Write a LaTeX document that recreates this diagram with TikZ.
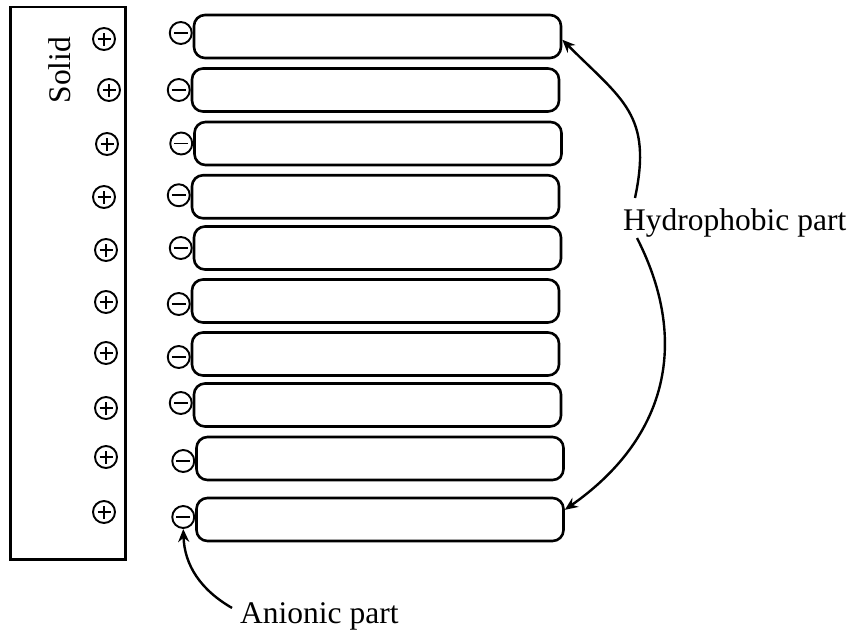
\documentclass[tikz,border=0pt]{standalone}
\usepackage{fontspec}
\setmainfont{Liberation Serif}
\usetikzlibrary{arrows.meta,positioning}

\begin{document}
\begin{tikzpicture}[
        x=1pt, y=-1pt,
        solidbox/.style={
            rectangle,
            draw=black,
            line width=2.6pt,
            minimum width=115pt,
            minimum height=552.5pt,
            inner sep=0pt
        },
        rodbox/.style={
            rectangle,
            rounded corners=11pt,
            draw=black,
            line width=2.6pt,
            minimum width=367pt,
            minimum height=43pt,
            inner sep=0pt
        },
        plusion/.style={
            circle,
            draw=black,
            line width=1.9pt,
            minimum size=22pt,
            inner sep=0pt,
            path picture={
                \draw[line width=1.9pt]
                    ([xshift=-6.5pt]path picture bounding box.center) -- ([xshift=6.5pt]path picture bounding box.center)
                    ([yshift=-6.5pt]path picture bounding box.center) -- ([yshift=6.5pt]path picture bounding box.center);
            }
        },
        minusion/.style={
            circle,
            draw=black,
            line width=1.9pt,
            minimum size=22pt,
            inner sep=0pt,
            path picture={
                \draw[line width=1.9pt]
                    ([xshift=-7pt]path picture bounding box.center) -- ([xshift=7pt]path picture bounding box.center);
            }
        },
        textlabel/.style={
            inner sep=0pt,
            font=\fontsize{31.5}{36}\selectfont
        },
        arrow/.style={
            -{Stealth[length=13pt,width=11pt]},
            line width=2.4pt
        }
    ]
    \useasboundingbox (0,0) rectangle (853,633);

    % Solid surface with its positive charges
    \node[solidbox] (solid) at (68,283.25) {};
    \node[textlabel, rotate=90] (solidtext) at (60,70) {Solid};
    \node[plusion] (p1) at (104,39) {};
    \node[plusion] (p2) at (109,90) {};
    \node[plusion] (p3) at (107,144) {};
    \node[plusion] (p4) at (104,197) {};
    \node[plusion] (p5) at (106,250) {};
    \node[plusion] (p6) at (106,302) {};
    \node[plusion] (p7) at (106,353) {};
    \node[plusion] (p8) at (106,408) {};
    \node[plusion] (p9) at (106,457) {};
    \node[plusion] (p10) at (104,512) {};

    % Hydrophobic tails
    \node[rodbox] (rod1) at (377.5,36.5) {};
    \node[rodbox] (rod2) at (375.5,90) {};
    \node[rodbox] (rod3) at (378,143.5) {};
    \node[rodbox] (rod4) at (375.5,196.75) {};
    \node[rodbox] (rod5) at (377.5,248) {};
    \node[rodbox] (rod6) at (375.5,301) {};
    \node[rodbox] (rod7) at (375.5,354) {};
    \node[rodbox] (rod8) at (377.5,405) {};
    \node[rodbox] (rod9) at (380,458.5) {};
    \node[rodbox] (rod10) at (380,519.5) {};

    % Anionic heads next to each tail
    \node[minusion, left=0pt of rod1, yshift=3.5pt] (m1) {};
    \node[minusion, left=0pt of rod2] (m2) {};
    \node[minusion, left=0pt of rod3] (m3) {};
    \node[minusion, left=0pt of rod4, yshift=1.5pt] (m4) {};
    \node[minusion, left=0pt of rod5] (m5) {};
    \node[minusion, left=0pt of rod6, yshift=-3pt] (m6) {};
    \node[minusion, left=0pt of rod7, yshift=-3pt] (m7) {};
    \node[minusion, left=0pt of rod8, yshift=2pt] (m8) {};
    \node[minusion, left=0pt of rod9, yshift=-2.5pt] (m9) {};
    \node[minusion, left=0pt of rod10, yshift=2.5pt] (m10) {};

    % Labels
    \node[textlabel, anchor=base west] (hydro) at (623,230) {Hydrophobic part};
    \node[textlabel, anchor=base west] (anion) at (240,623) {Anionic part};

    % Pointers
    \draw[arrow] ([xshift=12pt,yshift=10pt]hydro.north west) to[out=78,in=-45,looseness=1.25] (rod1.-1);
    \draw[arrow] ([xshift=14pt,yshift=-1pt]hydro.south west) to[out=-63,in=35,looseness=1.1] (rod10.3);
    \draw[arrow] ([xshift=-8pt,yshift=8pt]anion.west) to[out=150,in=-88] (m10.south);

\end{tikzpicture}
\end{document}
